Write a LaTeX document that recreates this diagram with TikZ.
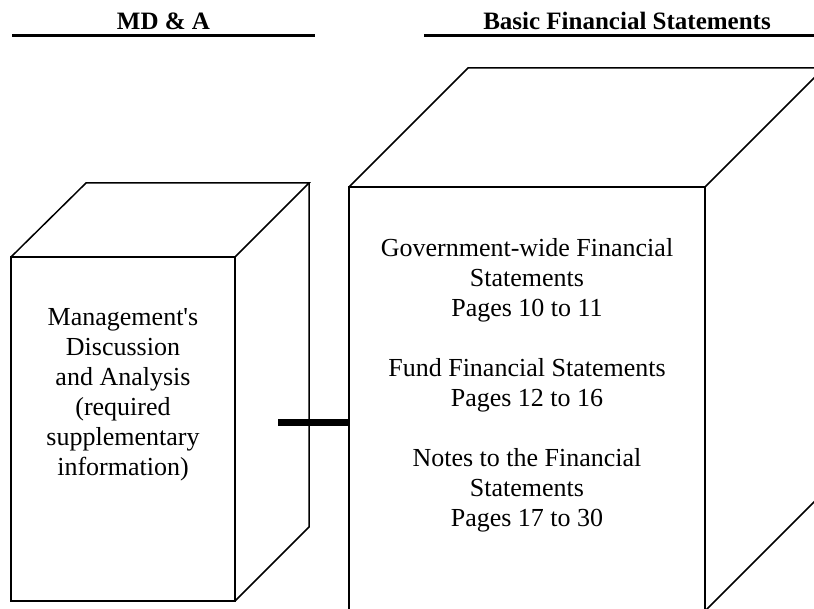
\documentclass[tikz,border=0pt]{standalone}
\usepackage{fontspec}
\setmainfont{Liberation Serif}

\begin{document}
\begin{tikzpicture}[x=1pt, y=-1pt,
  boxline/.style={line width=1.5pt, line join=miter},
  rulebar/.style={line width=3pt},
  heading/.style={font=\fontsize{25}{30}\selectfont\bfseries, inner sep=0pt, anchor=base},
  boxtext/.style={font=\fontsize{26}{30}\selectfont, align=center, inner sep=0pt, anchor=north}]
\useasboundingbox (0,0) rectangle (814,609);
\clip (0,0) rectangle (814,609);

% headings
\node[heading] (mdaTitle) at (163.5,29.5) {MD \& A};
\node[heading] (bfsTitle) at (627,29.5) {Basic Financial Statements};
\draw[rulebar] (12,36) -- (315,36);
\draw[rulebar] (424,36) -- (814,36);

% MD&A box
\draw[boxline] (11,257) rectangle (235,601);
\draw[boxline] (11,257) -- (86,183) -- (309,183) -- (235,257);
\draw[boxline] (309,183) -- (309,527) -- (235,601);
\node[boxtext] (mdaText) at (123,308)
  {Management\textquotesingle s\\Discussion\\and Analysis\\(required\\supplementary\\information)};

% basic statements box
\draw[boxline] (349,187) rectangle (705,611);
\draw[boxline] (349,187) -- (468,68) -- (824,68) -- (705,187);
\draw[boxline] (824,68) -- (824,492) -- (705,611);
\node[boxtext] (bfsText) at (527,238)
  {Government-wide Financial\\Statements\\Pages 10 to 11\\[30pt]
   Fund Financial Statements\\Pages 12 to 16\\[30pt]
   Notes to the Financial\\Statements\\Pages 17 to 30};

% link between the boxes
\coordinate (linkL) at (278,423);
\coordinate (linkR) at (350,423);
\draw[line width=7pt] (linkL) -- (linkR);
\end{tikzpicture}
\end{document}
